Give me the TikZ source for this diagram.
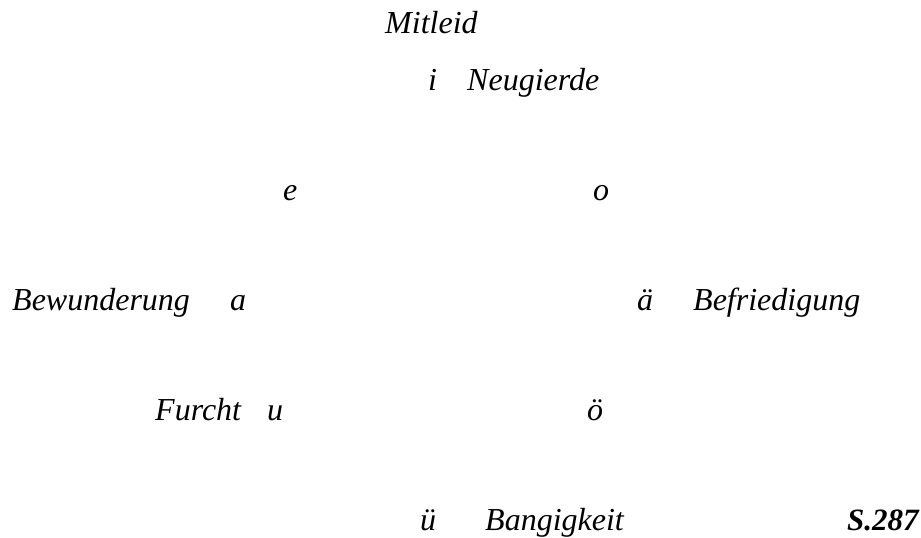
\documentclass[tikz,border=0pt]{standalone}
\usepackage{fontspec}
\setmainfont{Liberation Serif}
\begin{document}
\begin{tikzpicture}[x=1pt,y=-1pt,
  word/.style={anchor=base west,inner sep=0pt,font=\fontsize{32}{36}\selectfont\itshape},
  pageref/.style={anchor=base west,inner sep=0pt,font=\fontsize{31}{36}\selectfont\bfseries\itshape}]
\useasboundingbox (0,0) rectangle (921,538);
\node[word] (mitleid) at (385,33) {Mitleid};
\node[word] (i) at (428,90) {i};
\node[word] (neugierde) at (467,90) {Neugierde};
\node[word] (e) at (283,200) {e};
\node[word] (o) at (593,200) {o};
\node[word] (bewunderung) at (12,310) {Bewunderung};
\node[word] (a) at (230,310) {a};
\node[word] (ae) at (637,310) {ä};
\node[word] (befriedigung) at (693,310) {Befriedigung};
\node[word] (furcht) at (155,420) {Furcht};
\node[word] (u) at (267,420) {u};
\node[word] (oe) at (587,420) {ö};
\node[word] (ue) at (420,530) {ü};
\node[word] (bangigkeit) at (485,530) {Bangigkeit};
\node[pageref] (s) at (847,530) {S.287};
\end{tikzpicture}
\end{document}
